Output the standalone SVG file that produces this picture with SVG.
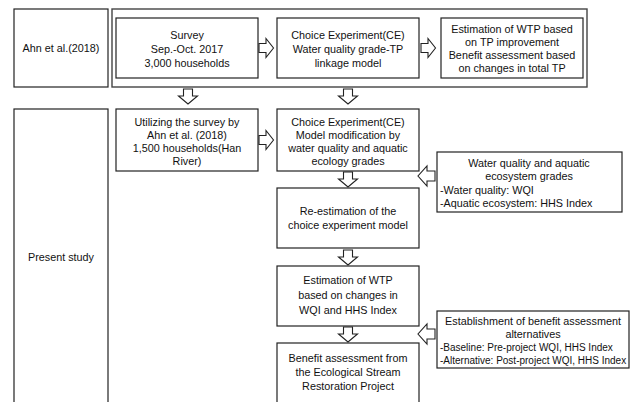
<svg xmlns="http://www.w3.org/2000/svg" width="633" height="402" viewBox="0 0 633 402">
<style>
.b{fill:#fff;stroke:#222;stroke-width:1.2}
.o{fill:none;stroke:#444;stroke-width:1.4}
.a{fill:#fff;stroke:#222;stroke-width:1.1;stroke-linejoin:miter}
text{font-family:"Liberation Sans",Arial,sans-serif;font-size:10.8px;fill:#111;text-anchor:middle}
.l{text-anchor:start}
.s{font-size:10px}
</style>
<defs>
<path id="down" d="M-4.5,0 H4.5 V7 H9.5 L0,15 L-9.5,7 H-4.5 Z"/>
<path id="right" d="M0,-4.5 V4.5 H7 V9.5 L14.5,0 L7,-9.5 V-4.5 Z"/>
<path id="left" d="M17,-5 V5 H9 V10 L0,0 L9,-10 V-5 Z"/>
</defs>
<rect width="633" height="402" fill="#fff"/>
<g id="ahn-label"><rect class="b" x="14" y="9" width="94" height="78"/><text x="61" y="52">Ahn et al.(2018)</text></g>
<g id="ahn-container"><rect class="o" x="112" y="9" width="475" height="78"/></g>
<g id="survey"><rect class="b" x="116" y="18" width="142" height="60"/>
<text x="187" y="39">Survey</text><text x="187" y="53">Sep.-Oct. 2017</text><text x="187" y="67">3,000 households</text></g>
<g id="ce-tp"><rect class="b" x="277" y="18" width="142" height="60"/>
<text x="348" y="39">Choice Experiment(CE)</text><text x="348" y="53">Water quality grade-TP</text><text x="348" y="67">linkage model</text></g>
<g id="wtp-tp"><rect class="b" x="441" y="18" width="142" height="60"/>
<text x="512" y="33">Estimation of WTP based</text><text x="512" y="46">on TP improvement</text><text x="512" y="59">Benefit assessment based</text><text x="512" y="72">on changes in total TP</text></g>
<g id="present-label"><rect class="b" x="14" y="109" width="94" height="310"/><text x="61" y="261">Present study</text></g>
<g id="utilizing"><rect class="b" x="116" y="109" width="142" height="62"/>
<text x="187" y="126">Utilizing the survey by</text><text x="187" y="139">Ahn et al. (2018)</text><text x="187" y="152">1,500 households(Han</text><text x="187" y="165">River)</text></g>
<g id="ce-model"><rect class="b" x="277" y="109" width="142" height="62"/>
<text x="348" y="126">Choice Experiment(CE)</text><text x="348" y="139">Model modification by</text><text x="348" y="152">water quality and aquatic</text><text x="348" y="165">ecology grades</text></g>
<g id="reestimation"><rect class="b" x="277" y="188" width="142" height="60"/>
<text x="348" y="215">Re-estimation of the</text><text x="348" y="229">choice experiment model</text></g>
<g id="wtp-wqi"><rect class="b" x="277" y="266" width="142" height="60"/>
<text x="348" y="284">Estimation of WTP</text><text x="348" y="299">based on changes in</text><text x="348" y="314">WQI and HHS Index</text></g>
<g id="benefit"><rect class="b" x="277" y="343" width="142" height="70"/>
<text x="348" y="362">Benefit assessment from</text><text x="348" y="376">the Ecological Stream</text><text x="348" y="390">Restoration Project</text></g>
<g id="grades"><rect class="b" x="437" y="152" width="185" height="60"/>
<text x="529" y="167">Water quality and aquatic</text><text x="529" y="180">ecosystem grades</text><text class="l" x="440" y="194">-Water quality: WQI</text><text class="l" x="440" y="207">-Aquatic ecosystem: HHS Index</text></g>
<g id="alternatives"><rect class="b" x="437" y="311" width="192" height="57"/>
<text x="533" y="325">Establishment of benefit assessment</text><text x="533" y="338">alternatives</text><text class="l s" x="440" y="351">-Baseline: Pre-project WQI, HHS Index</text><text class="l s" x="440" y="364">-Alternative: Post-project WQI, HHS Index</text></g>
<g id="connectors">
<use href="#right" class="a" x="259" y="48"/>
<use href="#right" class="a" x="421" y="48"/>
<use href="#right" class="a" x="259" y="140"/>
<use href="#down" class="a" x="188" y="89"/>
<use href="#down" class="a" x="348" y="89"/>
<use href="#down" class="a" x="348" y="172"/>
<use href="#down" class="a" x="348" y="250"/>
<use href="#down" class="a" x="348" y="327"/>
<use href="#left" class="a" x="418" y="176"/>
<use href="#left" class="a" x="418" y="334"/>
</g>
</svg>
